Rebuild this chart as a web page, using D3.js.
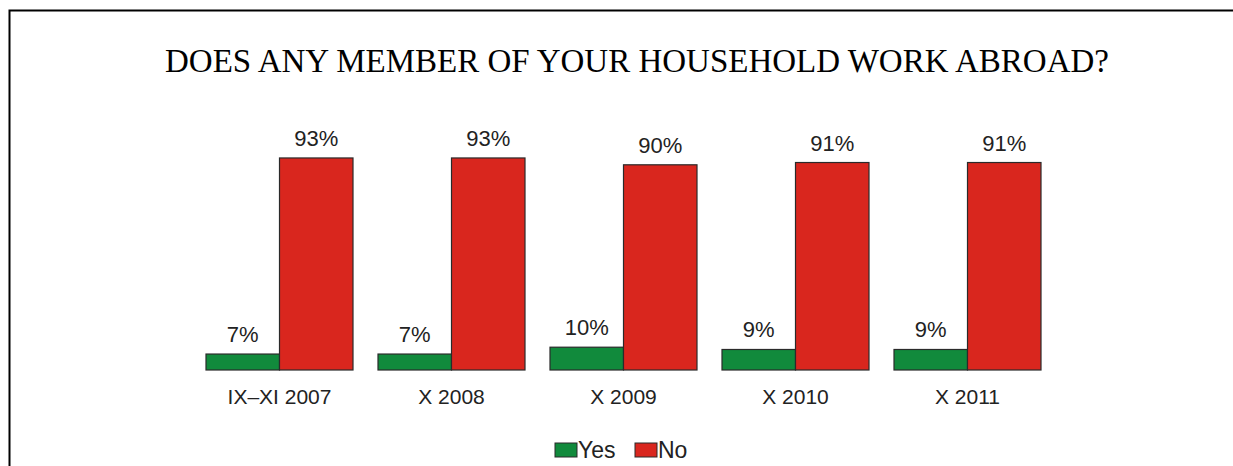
<!DOCTYPE html>
<html>
<head>
<meta charset="utf-8">
<script src="https://cdn.jsdelivr.net/npm/d3@7"></script>
<style>
  body { margin: 0; background: #fff; }
  svg { display: block; }
</style>
</head>
<body>
<div class="chart"></div>
<script>
const categories = ["IX\u2013XI 2007", "X 2008", "X 2009", "X 2010", "X 2011"];
const seriesNames = ["Yes", "No"];
const yesValues = [7, 7, 10, 9, 9];
const noValues = [93, 93, 90, 91, 91];
const colors = ["#118a3c", "#d9261e"];

const width = 1233, height = 466;
const baseline = 370;

const svg = d3.select(".chart").append("svg")
  .attr("width", width)
  .attr("height", height);

// frame (top + left edge only)
svg.append("path")
  .attr("d", `M9.5,${height} V10.5 H${width}`)
  .attr("fill", "none")
  .attr("stroke", "#000")
  .attr("stroke-width", 2);

svg.append("text")
  .attr("x", 637)
  .attr("y", 72)
  .attr("text-anchor", "middle")
  .attr("font-family", "Liberation Serif, Times New Roman, serif")
  .attr("font-size", 33)
  .text("DOES ANY MEMBER OF YOUR HOUSEHOLD WORK ABROAD?");

const step = 172;
const x0 = d3.scaleBand()
  .domain(categories)
  .range([206 - 12.5, 206 - 12.5 + step * categories.length])
  .paddingInner(25 / step)
  .paddingOuter(12.5 / step);

const x1 = d3.scaleBand()
  .domain(seriesNames)
  .range([0, x0.bandwidth()]);

const y = d3.scaleLinear()
  .domain([0, 100])
  .range([baseline, baseline - 228]);

const rows = categories.map((c, i) => ({ cat: c, vals: [yesValues[i], noValues[i]] }));

const groups = svg.append("g").selectAll("g")
  .data(rows)
  .join("g")
  .attr("transform", d => `translate(${x0(d.cat)},0)`);

groups.selectAll("rect")
  .data(d => d.vals.map((v, j) => ({ key: seriesNames[j], v, j })))
  .join("rect")
  .attr("x", d => x1(d.key))
  .attr("y", d => y(d.v))
  .attr("width", x1.bandwidth())
  .attr("height", d => baseline - y(d.v))
  .attr("fill", d => colors[d.j])
  .attr("stroke", "#2a2a2a")
  .attr("stroke-width", 1.2);

groups.selectAll("text.val")
  .data(d => d.vals.map((v, j) => ({ key: seriesNames[j], v })))
  .join("text")
  .attr("class", "val")
  .attr("x", d => x1(d.key) + x1.bandwidth() / 2)
  .attr("y", d => y(d.v) - 12)
  .attr("text-anchor", "middle")
  .attr("font-family", "Liberation Sans, Arial, sans-serif")
  .attr("font-size", 22)
  .attr("fill", "#222")
  .text(d => d.v + "%");

// category axis labels
const xAxis = d3.axisBottom(x0).tickSize(0).tickPadding(19);
const ax = svg.append("g")
  .attr("transform", `translate(0,${baseline})`)
  .call(xAxis);
ax.select(".domain").remove();
ax.selectAll("text")
  .attr("font-family", "Liberation Sans, Arial, sans-serif")
  .attr("font-size", 21)
  .attr("fill", "#222");

// legend
const legend = svg.append("g").attr("transform", "translate(555,443)");
const legendX = [0, 80];
seriesNames.forEach((name, i) => {
  const g = legend.append("g").attr("transform", `translate(${legendX[i]},0)`);
  g.append("rect")
    .attr("width", 22)
    .attr("height", 14)
    .attr("fill", colors[i])
    .attr("stroke", "#2a2a2a")
    .attr("stroke-width", 1);
  g.append("text")
    .attr("x", 23)
    .attr("y", 15)
    .attr("font-family", "Liberation Sans, Arial, sans-serif")
    .attr("font-size", 23)
    .attr("fill", "#222")
    .text(name);
});
</script>
</body>
</html>
